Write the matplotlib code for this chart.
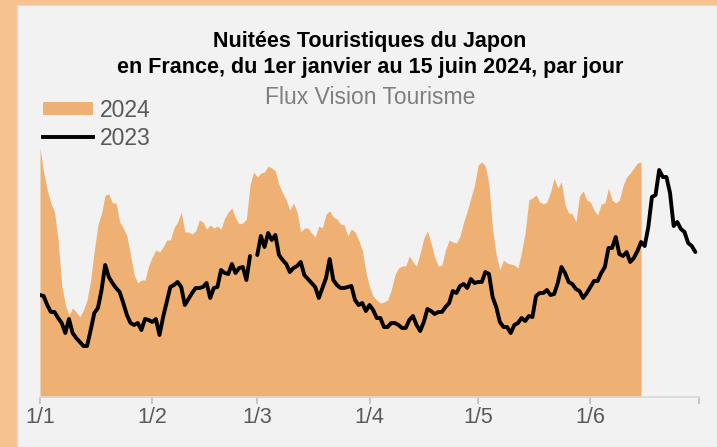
import numpy as np
import pandas as pd
import matplotlib
matplotlib.use("Agg")
import matplotlib.pyplot as plt
from matplotlib.patches import Rectangle, Patch
from matplotlib.lines import Line2D

plt.rcParams['font.family'] = ['Liberation Sans', 'DejaVu Sans']

# nuitées journalières (indice relatif), 2024 : 1er janvier -> 15 juin
nuitees_2024 = [
    249, 225, 207, 194, 185, 157, 112, 92, 82, 89, 85, 80, 87, 97, 117, 147,
    172, 184, 202, 203, 194, 194, 175, 169, 161, 142, 122, 114, 117, 117, 131,
    140, 147, 145, 150, 157, 157, 169, 175, 185, 165, 165, 163, 166, 177, 175,
    168, 172, 169, 171, 168, 179, 185, 189, 179, 173, 174, 178, 212, 225,
    220, 224, 225, 231, 229, 226, 212, 204, 197, 187, 194, 185, 165, 169, 169,
    164, 160, 171, 169, 183, 186, 180, 178, 173, 172, 161, 168, 165, 157, 147,
    125, 110, 101, 97, 94, 95, 97, 107, 122, 129, 131, 131, 141, 135, 131, 144,
    159, 166, 154, 140, 131, 132, 147, 157, 155, 154, 161, 175, 186, 199, 212,
    232, 235, 231, 212, 167, 142, 127, 137, 134, 133, 132, 129, 145, 165, 197,
    199, 202, 195, 193, 195, 205, 219, 209, 215, 192, 184, 183, 175, 201, 206,
    197, 195, 187, 182, 193, 194, 209, 197, 194, 197, 211, 220, 224, 229, 234,
    235,
]

# 2023 : 1er janvier -> 30 juin (pas de 29 février)
nuitees_2023 = [
    102, 101, 92, 85, 85, 79, 74, 64, 78, 64, 59, 55, 51, 51, 67, 84, 89, 107,
    132, 120, 114, 109, 105, 94, 82, 74, 72, 74, 67, 78, 77, 75, 78, 62, 80,
    95, 110, 112, 115, 110, 92, 98, 104, 109, 109, 110, 114, 99, 109, 110, 127,
    124, 123, 133, 124, 129, 130, 117, 141, np.nan,
    142, 161, 150, 164, 157, 162, 142, 137, 133, 125, 129, 131, 135, 122, 118,
    114, 110, 99, 109, 119, 138, 117, 112, 109, 109, 110, 111, 97, 92, 94, 86,
    92, 87, 79, 79, 70, 70, 74, 74, 72, 69, 69, 77, 81, 72, 66, 75, 88, 86, 83,
    85, 85, 90, 94, 106, 104, 111, 113, 109, 118, 114, 115, 115, 125, 123, 100,
    90, 75, 70, 70, 64, 72, 74, 79, 76, 81, 80, 101, 104, 104, 107, 102, 103,
    114, 130, 124, 115, 113, 108, 106, 99, 104, 110, 116, 116, 124, 130, 149,
    149, 160, 143, 141, 145, 135, 139, 146, 155, 151, 170, 200, 202, 227, 220,
    220, 204, 171, 175, 168, 165, 154, 151, 145,
]

month_starts = ['2024-01-01', '2024-02-01', '2024-03-01', '2024-04-01',
                '2024-05-01', '2024-06-01', '2024-07-01']
tick_labels = ['1/1', '1/2', '1/3', '1/4', '1/5', '1/6', '']

dates_2024 = pd.date_range('2024-01-01', periods=len(nuitees_2024), freq='D')
dates_2023 = pd.date_range('2024-01-01', periods=len(nuitees_2023), freq='D')

W, H = 717, 447
fig = plt.figure(figsize=(W / 100, H / 100), dpi=100, facecolor='#F6C390')

# panneau gris clair derrière le graphique
fig.patches.append(Rectangle((17 / W, 0), 1 - 17 / W, 1 - 5 / H,
                             transform=fig.transFigure, facecolor='#F2F2F2',
                             edgecolor='#D9D9D9', linewidth=1, zorder=-10))

ax = fig.add_axes([40 / W, 50 / H, (699 - 40) / W, 260 / H])
ax.set_facecolor('none')

ax.fill_between(dates_2024, nuitees_2024, 0, color='#EFB073', linewidth=0,
                zorder=1)
ax.plot(dates_2023, nuitees_2023, color='black', linewidth=2.8,
        solid_joinstyle='round', solid_capstyle='round', zorder=2)

ax.set_xlim(pd.Timestamp('2024-01-01'), pd.Timestamp('2024-07-01'))
ax.set_ylim(0, 260)
ax.set_xticks(pd.to_datetime(month_starts))
ax.set_xticklabels(tick_labels)
ax.set_yticks([])
for s in ['top', 'right', 'left']:
    ax.spines[s].set_visible(False)
ax.spines['bottom'].set_color('#D9D9D9')
ax.spines['bottom'].set_linewidth(1.2)
ax.tick_params(axis='x', colors='#BFBFBF', length=5, width=1.2, pad=2.5,
               labelsize=15.5, labelcolor='#595959')

fig.text(370 / W, 1 - 42 / H, 'Nuitées Touristiques du Japon',
         ha='center', va='center', fontsize=15.5, fontweight='bold')
fig.text(370 / W, 1 - 68 / H,
         'en France, du 1er janvier au 15 juin 2024, par jour',
         ha='center', va='center', fontsize=15.5, fontweight='bold')
fig.text(370 / W, 1 - 97 / H, 'Flux Vision Tourisme',
         ha='center', va='center', fontsize=16.5, color='#7F7F7F')

handles = [Patch(facecolor='#EFB073', edgecolor='none'),
           Line2D([], [], color='black', linewidth=2.8)]
fig.legend(handles, ['2024', '2023'], loc='upper left',
           bbox_to_anchor=(43 / W, 1 - 99 / H), bbox_transform=fig.transFigure,
           frameon=False, fontsize=16.5, labelcolor='#595959',
           handlelength=2.2, handleheight=0.5, handletextpad=0.3,
           labelspacing=0.2, borderpad=0, borderaxespad=0)

fig.savefig('out.png', dpi=100, facecolor=fig.get_facecolor())
